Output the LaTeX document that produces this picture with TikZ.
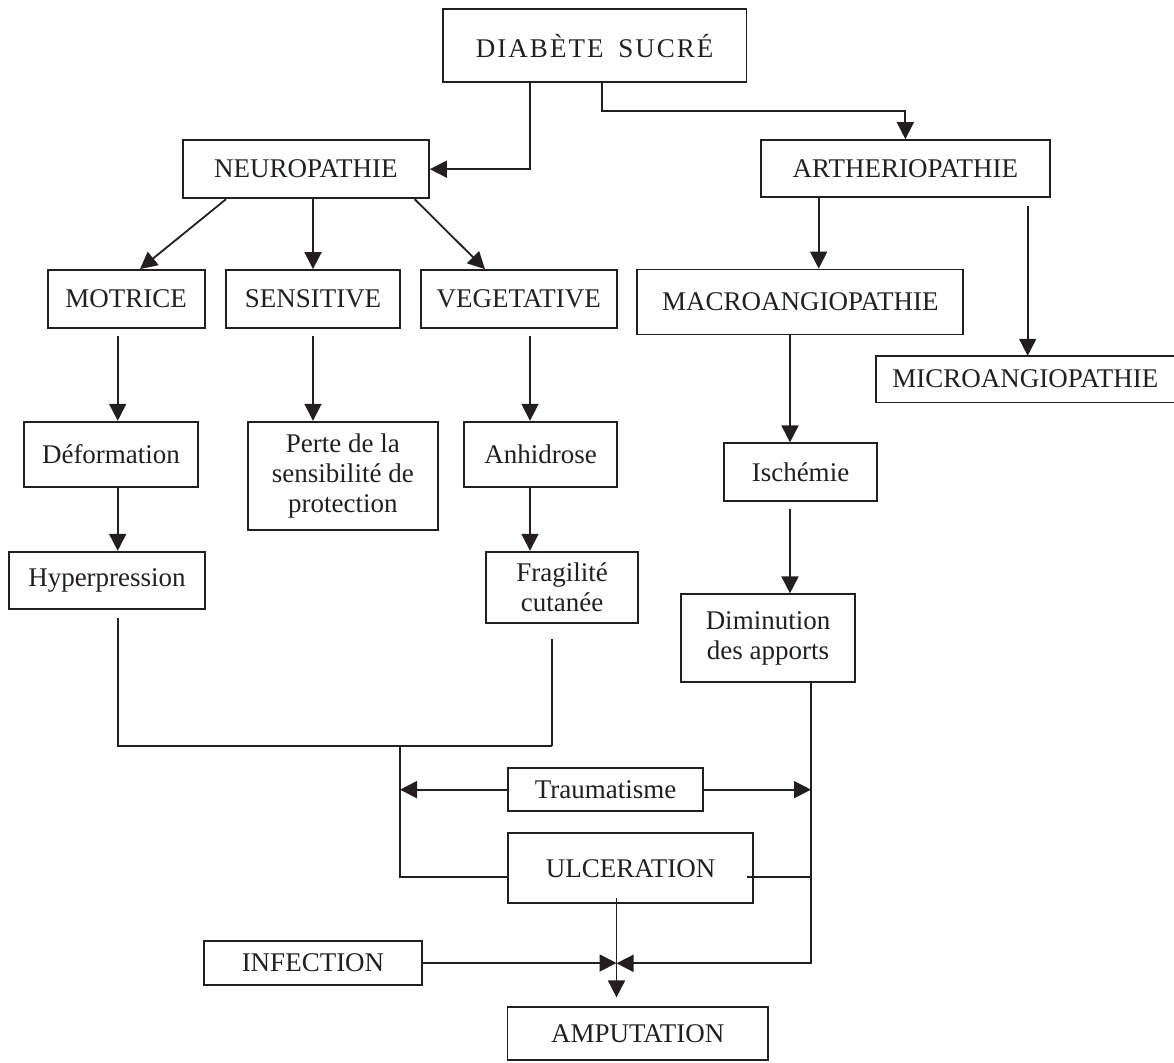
\documentclass[tikz,border=0pt]{standalone}
\usepackage{fontspec}
\setmainfont{Liberation Serif}
\usetikzlibrary{arrows.meta,calc}
\definecolor{ink}{RGB}{35,31,32}
\tikzset{
  box/.style={draw=ink, text=ink, line width=0.9pt, inner sep=0pt, align=center,
              font=\fontsize{13.5}{15}\selectfont},
  ln/.style={draw=ink, line width=0.9pt},
  arr/.style={ln, -{Triangle[length=8.5pt,width=8.5pt]}},
  gapa/.style={shorten <=3.7pt},
  gapb/.style={shorten <=7.5pt},
}
\newcommand\mybox[7][]{\node[box,#1, minimum width={(#5-#3)*0.5pt}, minimum height={(#6-#4)*0.5pt}] (#2) at ({(#3+#5)/2},{(#4+#6)/2}) {#7};}
\begin{document}
\begin{tikzpicture}[x=0.5pt,y=-0.5pt]
\useasboundingbox (0,0) rectangle (1174,1062);
% boxes: name, x1, y1, x2, y2
\mybox{DS}{443}{9.3}{746.4}{82.3}{\addfontfeatures{LetterSpace=7.5}DIABÈTE\hspace{3pt} SUCRÉ}
\mybox{NEU}{182.6}{140}{429}{198.3}{NEUROPATHIE}
\mybox{ART}{760.7}{140}{1050}{197.3}{ARTHERIOPATHIE}
\mybox{MOT}{47.7}{270}{204.7}{327.7}{MOTRICE}
\mybox{SEN}{226}{270}{400}{328}{SENSITIVE}
\mybox{VEG}{420.7}{270}{616.7}{327.7}{VEGETATIVE}
\mybox{MAC}{637.3}{269.5}{963.3}{334.5}{MACROANGIOPATHIE}
\mybox[draw=none]{MIC}{876.7}{356.7}{1174}{401.5}{MICROANGIOPATHIE}
\draw[ln] (MIC.north east) -- (MIC.north west) -- (MIC.south west) -- (MIC.south east);
\mybox{DEF}{24}{421.7}{198}{486.7}{Déformation}
\mybox{PER}{247.7}{421.7}{438}{530}{Perte de la\\ sensibilité de\\ protection}
\mybox{ANH}{464.3}{421.7}{616.7}{486.7}{Anhidrose}
\mybox{ISC}{724.3}{443.3}{876.7}{500.7}{Ischémie}
\mybox{HYP}{9.3}{551.7}{204.7}{609.3}{Hyperpression}
\mybox{FRA}{486}{551.7}{638}{623.3}{Fragilité\\ cutanée}
\mybox{DIM}{681}{594.3}{855}{681.7}{Diminution\\ des apports}
\mybox{TRA}{507.7}{768.3}{703.3}{811}{Traumatisme}
\mybox{ULC}{507.7}{833.3}{753.3}{903.3}{ULCERATION}
\mybox{INF}{204.3}{941}{421.7}{985}{INFECTION}
\mybox{AMP}{507.5}{1006.7}{767.9}{1060}{AMPUTATION}
% helper coordinates
\coordinate (xa) at (530,0);
\coordinate (xb) at (602,0);
\coordinate (ya) at (0,111);
\coordinate (n1) at (226,0);
\coordinate (m1) at (140,0);
\coordinate (n3) at (414.7,0);
\coordinate (v1) at (485,0);
\coordinate (cl) at (117.7,0);
\coordinate (xm) at (818.7,0);
\coordinate (xmi) at (1027.7,0);
\coordinate (xi) at (790,0);
\coordinate (yj) at (0,746);
\coordinate (xj) at (400,0);
\coordinate (xf) at (551.7,0);
\coordinate (yu) at (0,876.7);
\coordinate (xr) at (811,0);
\coordinate (xu) at (616.5,0);
\coordinate (yi) at (0,963.3);
\coordinate (xq) at (746.7,0);
\coordinate (yb) at (0,898);
% connectors
\draw[arr] (DS.south -| xa) |- (NEU.east);
\draw[arr] (DS.south -| xb) -- (xb |- ya) -- (ya -| ART.north) -- (ART.north);
\draw[arr] (NEU.south -| n1) -- (MOT.north -| m1);
\draw[arr] (NEU.south -| SEN.north) -- (SEN.north);
\draw[arr] (NEU.south -| n3) -- (VEG.north -| v1);
\draw[arr,gapa] (MOT.south -| cl) -- (DEF.north -| cl);
\draw[arr,gapa] (SEN.south) -- (PER.north -| SEN.south);
\draw[arr,gapa] (VEG.south -| xa) -- (ANH.north -| xa);
\draw[arr] (DEF.south -| cl) -- (HYP.north -| cl);
\draw[arr] (ANH.south -| xa) -- (FRA.north -| xa);
\draw[arr] (ART.south -| xm) -- (MAC.north -| xm);
\draw[arr,gapa] (ART.south -| xmi) -- (MIC.north -| xmi);
\draw[arr] (MAC.south -| xi) -- (ISC.north -| xi);
\draw[arr,gapa] (ISC.south -| xi) -- (DIM.north -| xi);
\draw[ln,gapa] (HYP.south -| cl) |- (yj -| xf);
\draw[ln,gapb] (FRA.south -| xf) -- (yj -| xf);
\draw[ln] (yj -| xj) |- (yu -| ULC.west);
\draw[arr] (TRA.west) -- (TRA.west -| xj);
\draw[arr] (TRA.east) -- (TRA.east -| xr);
\draw[arr] (DIM.south -| xr) |- (yi -| xu);
\draw[ln] (xq |- yu) -- (xr |- yu);
\draw[arr, shorten >=4.2pt] (xu |- yb) -- (AMP.north -| xu);
\draw[arr] (INF.east) -- (INF.east -| xu);
\end{tikzpicture}
\end{document}
